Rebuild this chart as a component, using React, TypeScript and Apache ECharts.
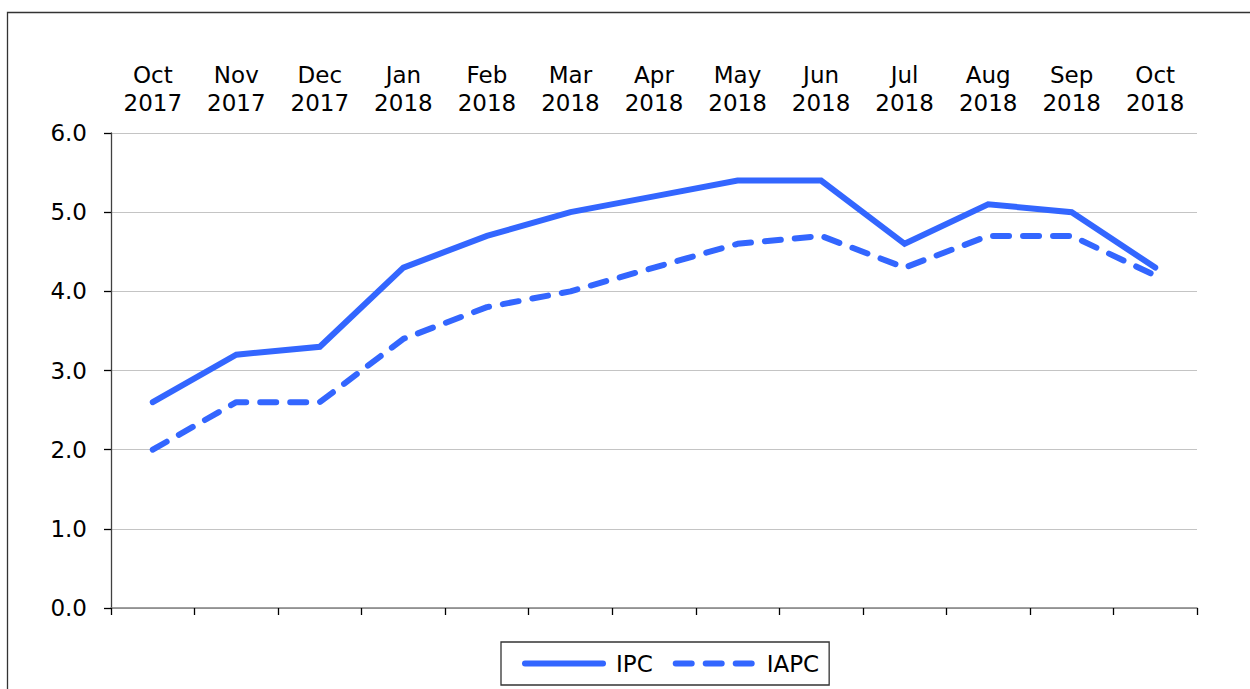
import React, { useEffect, useRef } from "react";
import * as echarts from "echarts";

const months = [
  "Oct\n2017", "Nov\n2017", "Dec\n2017", "Jan\n2018", "Feb\n2018", "Mar\n2018", "Apr\n2018",
  "May\n2018", "Jun\n2018", "Jul\n2018", "Aug\n2018", "Sep\n2018", "Oct\n2018",
];
const ipc = [2.6, 3.2, 3.3, 4.3, 4.7, 5.0, 5.2, 5.4, 5.4, 4.6, 5.1, 5.0, 4.3];
const iapc = [2.0, 2.6, 2.6, 3.4, 3.8, 4.0, 4.3, 4.6, 4.7, 4.3, 4.7, 4.7, 4.2];

const FONT = "DejaVu Sans";
const BLUE = "#3366ff";

export default function App() {
  const ref = useRef<HTMLDivElement>(null);
  useEffect(() => {
    if (!ref.current) return;
    const chart = echarts.init(ref.current, undefined, { renderer: "svg" });
    chart.setOption({
      animation: false,
      backgroundColor: "#ffffff",
      textStyle: { fontFamily: FONT },
      graphic: [
        {
          type: "rect",
          shape: { x: 7.5, y: 12.5, width: 1300, height: 720 },
          style: { fill: "none", stroke: "#333333", lineWidth: 1.3 },
          silent: true,
          z: -1,
        },
      ],
      grid: { left: 111, right: 53, top: 133, bottom: 81, containLabel: false },
      legend: {
        left: 501,
        top: 642,
        padding: [10, 10, 10, 21],
        itemGap: 20,
        itemWidth: 78,
        itemHeight: 14,
        borderColor: "#333333",
        borderWidth: 1.3,
        itemStyle: { opacity: 0 },
        lineStyle: { width: 6, cap: "round" },
        textStyle: { fontFamily: FONT, fontSize: 23, color: "#000", padding: [0, 0, 0, 8] },
        data: ["IPC", "IAPC"],
      },
      xAxis: [
        {
          type: "category",
          data: months,
          position: "bottom",
          boundaryGap: true,
          axisLine: { show: true, lineStyle: { color: "#808080", width: 1.5 } },
          axisTick: { show: true, length: 7, lineStyle: { color: "#000", width: 1.3 } },
          axisLabel: { show: false },
          splitLine: { show: false },
        },
        {
          type: "category",
          data: months,
          position: "top",
          boundaryGap: true,
          axisLine: { show: false },
          axisTick: { show: false },
          axisLabel: {
            show: true,
            interval: 0,
            margin: 16,
            fontFamily: FONT,
            fontSize: 23,
            lineHeight: 28,
            color: "#000",
          },
          splitLine: { show: false },
        },
      ],
      yAxis: {
        type: "value",
        min: 0,
        max: 6,
        interval: 1,
        axisLine: { show: true, lineStyle: { color: "#404040", width: 1.3 } },
        axisTick: { show: true, length: 7, lineStyle: { color: "#000", width: 1.3 } },
        axisLabel: {
          margin: 24,
          fontFamily: FONT,
          fontSize: 23,
          color: "#000",
          formatter: (v: number) => v.toFixed(1),
        },
        splitLine: { show: true, lineStyle: { color: "#c4c4c4", width: 1.2 } },
      },
      series: [
        {
          name: "IPC",
          type: "line",
          data: ipc,
          xAxisIndex: 0,
          symbol: "none",
          lineStyle: { color: BLUE, width: 6, cap: "round", join: "miter" },
          itemStyle: { color: BLUE },
        },
        {
          name: "IAPC",
          type: "line",
          data: iapc,
          xAxisIndex: 0,
          symbol: "none",
          lineStyle: { color: BLUE, width: 6, type: [16, 14], cap: "round", join: "round" },
          itemStyle: { color: BLUE },
        },
      ],
    });
    return () => chart.dispose();
  }, []);
  return (
    <div
      ref={ref}
      style={{ position: "fixed", left: 0, top: 0, width: 1250, height: 689 }}
    />
  );
}
